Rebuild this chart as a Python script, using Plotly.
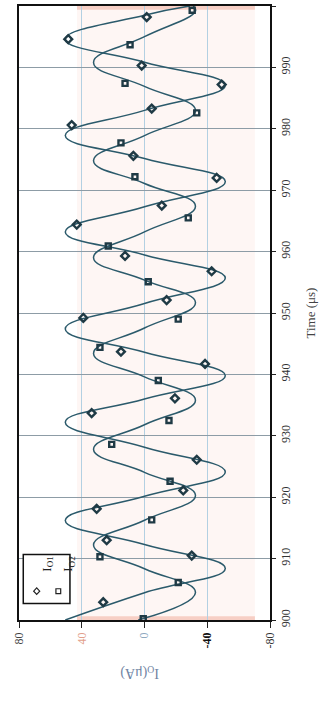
import plotly.graph_objects as go

# ---------------- data ----------------
time_ticks = [900, 910, 920, 930, 940, 950, 960, 970, 980, 990, 1000]
current_ticks = [80, 40, 0, -40, -80]
current_labels = ["80", "40", "0", "-40", "-80"]

# I_O1 measured samples (diamonds)
io1_t = [902.9, 910.5, 913.0, 918.1, 921.1, 926.1, 933.7, 936.1, 941.7, 943.7,
         949.2, 952.1, 956.8, 959.3, 964.4, 967.5, 972.0, 975.6, 980.6, 983.3,
         987.2, 990.3, 994.6, 998.2]
io1_v = [26.3, -30.1, 24.1, 30.5, -24.7, -33.3, 33.7, -19.4, -38.6, 15.0,
         39.0, -14.1, -42.8, 12.4, 43.2, -11.0, -46.0, 7.1, 46.4, -4.6,
         -49.2, 1.8, 48.6, -1.4]

# I_O2 measured samples (squares)
io2_t = [900.2, 906.1, 910.3, 916.3, 922.6, 928.6, 932.5, 939.0, 944.4, 949.0,
         955.1, 960.9, 965.5, 972.2, 977.7, 982.6, 987.4, 993.7, 999.3]
io2_v = [0.8, -21.5, 28.4, -4.6, -16.3, 20.9, -15.6, -8.8, 28.4, -21.5,
         -2.4, 23.1, -27.9, 6.1, 15.0, -33.3, 12.4, 9.2, -30.4]

# fitted curve 1 (peaks / crossings)
fit1_t = [900.0, 904.45, 908.4, 912.3, 916.2, 920.15, 924.1, 928.15, 932.2, 936.0,
          939.8, 943.6, 947.4, 951.55, 955.7, 959.45, 963.2, 967.3, 971.4, 975.15,
          978.9, 983.0, 987.1, 990.85, 994.6, 998.5, 1000.0]
fit1_v = [50.5, 0.0, -51.5, 0.0, 50.5, 0.0, -51.5, 0.0, 50.5, 0.0,
          -51.5, 0.0, 50.5, 0.0, -51.5, 0.0, 50.5, 0.0, -51.5, 0.0,
          50.5, 0.0, -51.5, 0.0, 50.5, 0.0, -29.0]

# fitted curve 2
fit2_t = [900.0, 904.5, 908.35, 912.2, 916.25, 920.3, 924.05, 927.8, 931.8, 935.8,
          939.6, 943.4, 947.55, 951.7, 955.35, 959.0, 963.2, 967.4, 971.1, 974.8,
          978.9, 983.0, 986.9, 990.8, 995.0, 999.2, 1000.0]
fit2_v = [4.0, -32.5, 0.0, 32.5, 0.0, -32.5, 0.0, 32.5, 0.0, -32.5,
          0.0, 32.5, 0.0, -32.5, 0.0, 32.5, 0.0, -32.5, 0.0, 32.5,
          0.0, -32.5, 0.0, 32.5, 0.0, -32.5, -31.0]

# ---------------- styling ----------------
LINE = "#2b5a6b"
MARK = "#1f3a45"
FONT = "Liberation Serif"

fig = go.Figure()

fig.add_trace(go.Scatter(x=fit1_v, y=fit1_t, mode="lines",
                         line=dict(color=LINE, width=1.5, shape="spline", smoothing=1.3),
                         showlegend=False, hoverinfo="skip"))
fig.add_trace(go.Scatter(x=fit2_v, y=fit2_t, mode="lines",
                         line=dict(color=LINE, width=1.5, shape="spline", smoothing=1.3),
                         showlegend=False, hoverinfo="skip"))
fig.add_trace(go.Scatter(x=io1_v, y=io1_t, mode="markers", name="I_O1",
                         marker=dict(symbol="diamond-open", size=6, color=MARK,
                                     line=dict(width=2.4, color=MARK)),
                         showlegend=False))
fig.add_trace(go.Scatter(x=io2_v, y=io2_t, mode="markers", name="I_O2",
                         marker=dict(symbol="square-open", size=5, color=MARK,
                                     line=dict(width=2.4, color=MARK)),
                         showlegend=False))

tick_colored = [
    '<span style="color:#444">80</span>',
    '<span style="color:#e2a08c">40</span>',
    '<span style="color:#8fa9c0">0</span>',
    '<span style="color:#111"><b>-40</b></span>',
    '<span style="color:#333">-80</span>',
]

# legend geometry (paper coordinates)
d_cx, d_cy, d_dx, d_dy = 0.0705, 0.047, 0.012, 0.0052
s_cx, s_cy, s_dx, s_dy = 0.1566, 0.047, 0.0095, 0.0039
diamond_path = (f"M {d_cx} {d_cy - d_dy} L {d_cx + d_dx} {d_cy} "
                f"L {d_cx} {d_cy + d_dy} L {d_cx - d_dx} {d_cy} Z")

fig.update_layout(
    width=325, height=709,
    margin=dict(l=19, r=55, t=4, b=89),
    paper_bgcolor="white", plot_bgcolor="white",
    font=dict(family=FONT, size=12, color="#333"),
    showlegend=False,
    xaxis=dict(range=[80, -80], tickvals=current_ticks, ticktext=tick_colored,
               tickangle=-90, ticks="outside", ticklen=6, tickcolor="#222",
               showline=True, mirror=True, linecolor="#111", linewidth=1.6,
               showgrid=True, gridcolor="#b3d0e2", gridwidth=1, zeroline=False,
               tickfont=dict(family=FONT, size=12)),
    yaxis=dict(range=[900, 1000], tickvals=time_ticks, side="right",
               tickangle=-90, ticks="outside", ticklen=4, tickcolor="#222",
               showline=True, mirror=True, linecolor="#111", linewidth=1.6,
               showgrid=True, gridcolor="#8d9ca6", gridwidth=1, zeroline=False,
               tickfont=dict(family=FONT, size=12, color="#333"),
               title=dict(text="Time (μs)", font=dict(family=FONT, size=13, color="#444"),
                          standoff=14)),
    shapes=[
        dict(type="rect", xref="paper", yref="paper", x0=0.231, x1=0.94, y0=0, y1=1,
             fillcolor="rgba(250,214,204,0.22)", line=dict(width=0), layer="below"),
        dict(type="rect", xref="paper", yref="paper", x0=0.231, x1=0.94, y0=0.994, y1=1.0,
             fillcolor="rgba(240,160,140,0.45)", line=dict(width=0), layer="below"),
        dict(type="rect", xref="paper", yref="paper", x0=0.231, x1=0.94, y0=0.0, y1=0.006,
             fillcolor="rgba(240,160,140,0.45)", line=dict(width=0), layer="below"),
        dict(type="rect", xref="paper", yref="paper", x0=0.017, x1=0.203,
             y0=0.027, y1=0.1067, fillcolor="white", line=dict(color="#111", width=1.5)),
        dict(type="path", xref="paper", yref="paper", path=diamond_path,
             line=dict(color="#222", width=1.2), fillcolor="white"),
        dict(type="rect", xref="paper", yref="paper",
             x0=s_cx - s_dx, x1=s_cx + s_dx, y0=s_cy - s_dy, y1=s_cy + s_dy,
             line=dict(color="#222", width=1.2), fillcolor="white"),
    ],
    annotations=[
        dict(text="I<sub>O</sub>(μA)", xref="paper", yref="paper", x=0.48, y=-0.1023,
             showarrow=False, textangle=180,
             font=dict(family=FONT, size=14, color="#6f84a3")),
        dict(text="I<sub>O1</sub>", xref="paper", yref="paper", x=0.0705, y=0.075,
             showarrow=False, textangle=-90, font=dict(family=FONT, size=13, color="#222")),
        dict(text="I<sub>O2</sub>", xref="paper", yref="paper", x=0.1566, y=0.075,
             showarrow=False, textangle=-90, font=dict(family=FONT, size=13, color="#222")),
    ],
)

fig.write_html("out.html")
